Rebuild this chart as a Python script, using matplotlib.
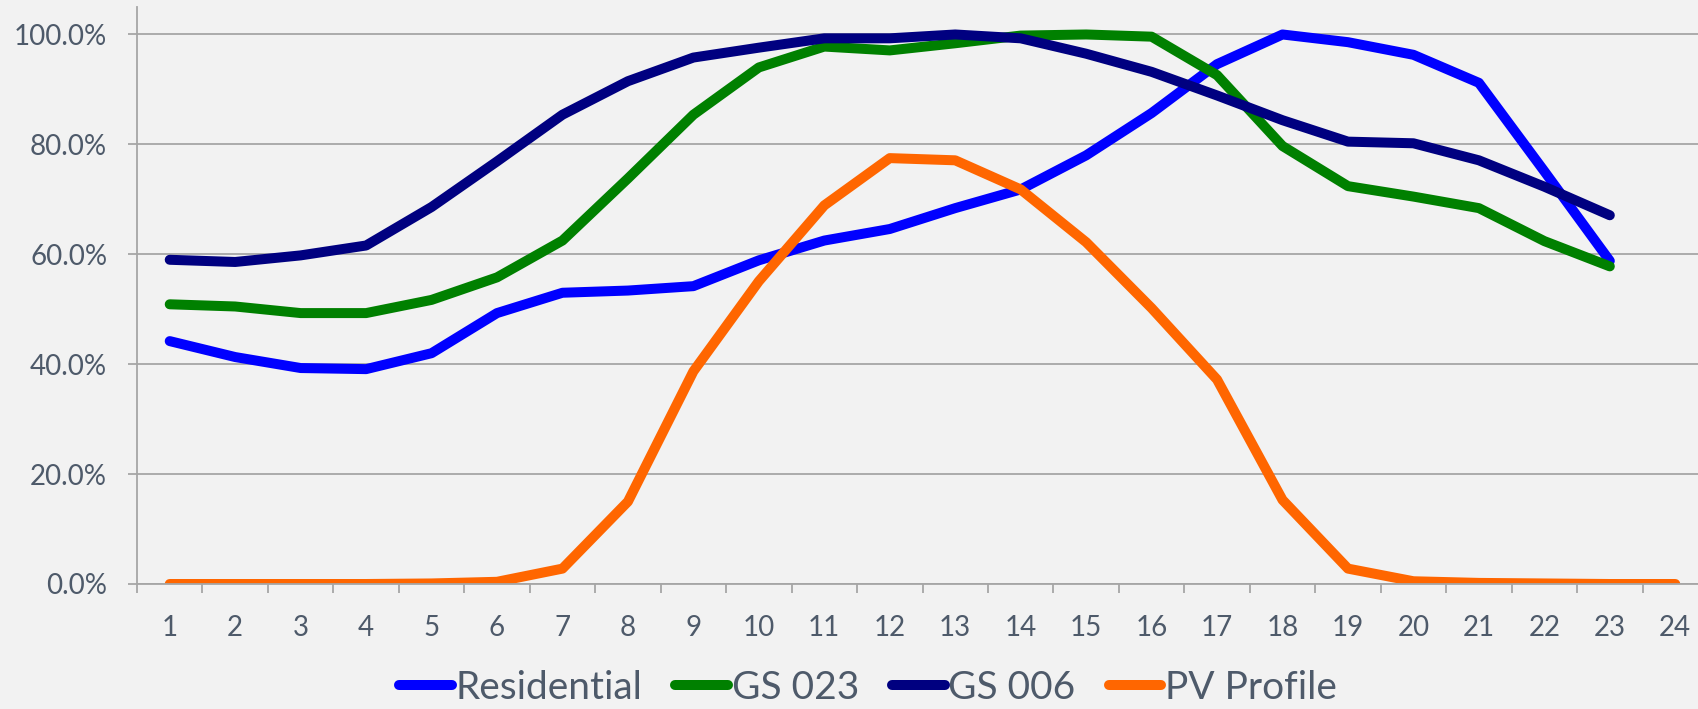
import matplotlib
matplotlib.use("Agg")
import matplotlib.pyplot as plt
from matplotlib.ticker import FuncFormatter, MultipleLocator

# hourly load profiles, in % of each profile's peak
hours = list(range(1, 25))
residential = [44.2, 41.3, 39.3, 39.1, 42.0, 49.3, 53.0, 53.4, 54.2, 58.9, 62.5, 64.6,
               68.4, 71.8, 78.0, 85.7, 94.6, 100.0, 98.6, 96.3, 91.2, 75.1, 58.8]
gs023 = [50.9, 50.5, 49.3, 49.3, 51.7, 55.8, 62.5, 73.8, 85.4, 94.0, 97.8, 97.1,
         98.4, 99.8, 100.0, 99.6, 92.6, 79.7, 72.4, 70.5, 68.4, 62.4, 57.8]
gs006 = [59.0, 58.6, 59.8, 61.6, 68.6, 76.9, 85.4, 91.5, 95.8, 97.6, 99.3, 99.3,
         100.0, 99.3, 96.5, 93.2, 88.9, 84.4, 80.5, 80.2, 77.1, 72.3, 67.1]
pv_profile = [0.0, 0.0, 0.0, 0.0, 0.1, 0.4, 2.8, 15.0, 38.7, 55.1, 68.9, 77.5,
              77.1, 71.8, 62.2, 50.2, 37.2, 15.3, 2.8, 0.5, 0.2, 0.1, 0.0, 0.0]

series = [
    ("Residential", residential, "#0000FF"),
    ("GS 023", gs023, "#008000"),
    ("GS 006", gs006, "#000080"),
    ("PV Profile", pv_profile, "#FF6600"),
]

plt.rcParams['font.family'] = ['Lato', 'DejaVu Sans']
text_color = '#4E5A6A'
grid_color = '#A6A6A6'
bg = '#F2F2F2'

W, H = 1698, 709
fig = plt.figure(figsize=(W / 100, H / 100), dpi=100, facecolor=bg)
# plot area runs a little past the right edge of the picture
ax = fig.add_axes([137 / W, (H - 584) / H, 1571 / W, 577 / H])
ax.set_facecolor(bg)

for name, vals, color in series:
    ax.plot(hours[:len(vals)], [v / 100 for v in vals], color=color, lw=7.2,
            label=name, solid_capstyle='round', solid_joinstyle='round')

ax.set_xlim(0.5, 24.5)
ax.set_ylim(0, 1.05)

ax.yaxis.set_major_locator(MultipleLocator(0.2))
ax.yaxis.set_major_formatter(FuncFormatter(lambda v, p: f"{v * 100:.1f}%"))
ax.set_xticks(hours)
ax.set_xticks([h - 0.5 for h in hours] + [24.5], minor=True)

ax.grid(axis='y', color=grid_color, lw=1.3)
ax.set_axisbelow(True)
for s in ['top', 'right']:
    ax.spines[s].set_visible(False)
for s in ['left', 'bottom']:
    ax.spines[s].set_color(grid_color)
    ax.spines[s].set_linewidth(1.3)

ax.tick_params(axis='y', direction='out', length=6.5, width=1.3, color=grid_color,
               labelsize=20, labelcolor=text_color, pad=15)
ax.tick_params(axis='x', which='major', length=0, labelsize=20, labelcolor=text_color, pad=22)
ax.tick_params(axis='x', which='minor', direction='out', length=6.5, width=1.3, color=grid_color)

fig.legend(loc='center', bbox_to_anchor=(868 / W, 1 - 688 / H), ncol=4, frameon=False,
           fontsize=28, labelcolor=text_color, handlelength=1.35, handletextpad=0.1,
           columnspacing=0.85, borderpad=0)

fig.savefig("out.png", dpi=100, facecolor=bg)
